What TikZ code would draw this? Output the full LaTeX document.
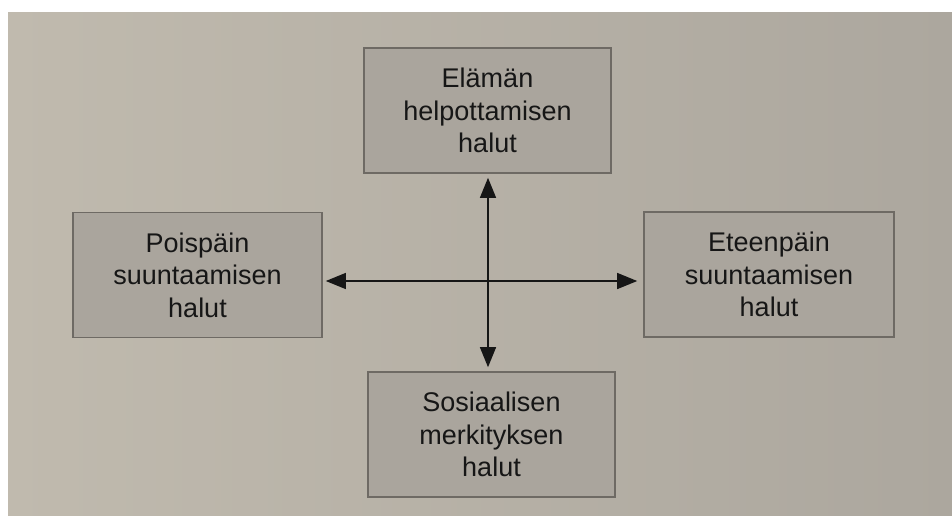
\documentclass[tikz,border=0pt]{standalone}
\usepackage{fontspec}
\setmainfont{Liberation Sans}
\usetikzlibrary{arrows.meta}
\definecolor{paper}{RGB}{192,186,174}
\definecolor{paperdark}{RGB}{172,167,158}
\definecolor{boxfill}{RGB}{170,165,157}
\definecolor{boxline}{RGB}{110,106,100}
\definecolor{ink}{RGB}{22,22,22}
\tikzset{
  box/.style={draw=boxline, line width=1.6pt, fill=boxfill, rectangle,
    minimum width=247pt, minimum height=125pt, inner sep=0pt,
    align=center, text=ink, font=\fontsize{27}{32.5}\selectfont},
  arr/.style={draw=ink, line width=1.3pt,
    {Triangle[length=20pt,width=16pt]}-{Triangle[length=20pt,width=16pt]}}
}
\begin{document}
\begin{tikzpicture}[x=1pt,y=-1pt]
\useasboundingbox (0,0) rectangle (952,515);
\fill[white] (0,0) rectangle (952,515);
\shade[left color=paper, right color=paperdark] (8,12) rectangle (952,515);
\node[box] (top) at (487.5,110.5) {Elämän\\helpottamisen\\halut};
\node[box, minimum width=249pt] (left) at (197.5,275) {Poispäin\\suuntaamisen\\halut};
\node[box, minimum width=250pt] (right) at (769,274.5) {Eteenpäin\\suuntaamisen\\halut};
\node[box] (bottom) at (491.5,434.5) {Sosiaalisen\\merkityksen\\halut};
\draw[arr] ([xshift=3pt,yshift=-6pt]left.east) -- ([xshift=-6pt,yshift=-6.5pt]right.west);
\draw[arr] ([xshift=0.5pt,yshift=-4pt]top.south) -- ([xshift=-3.5pt,yshift=4pt]bottom.north);
\end{tikzpicture}
\end{document}
